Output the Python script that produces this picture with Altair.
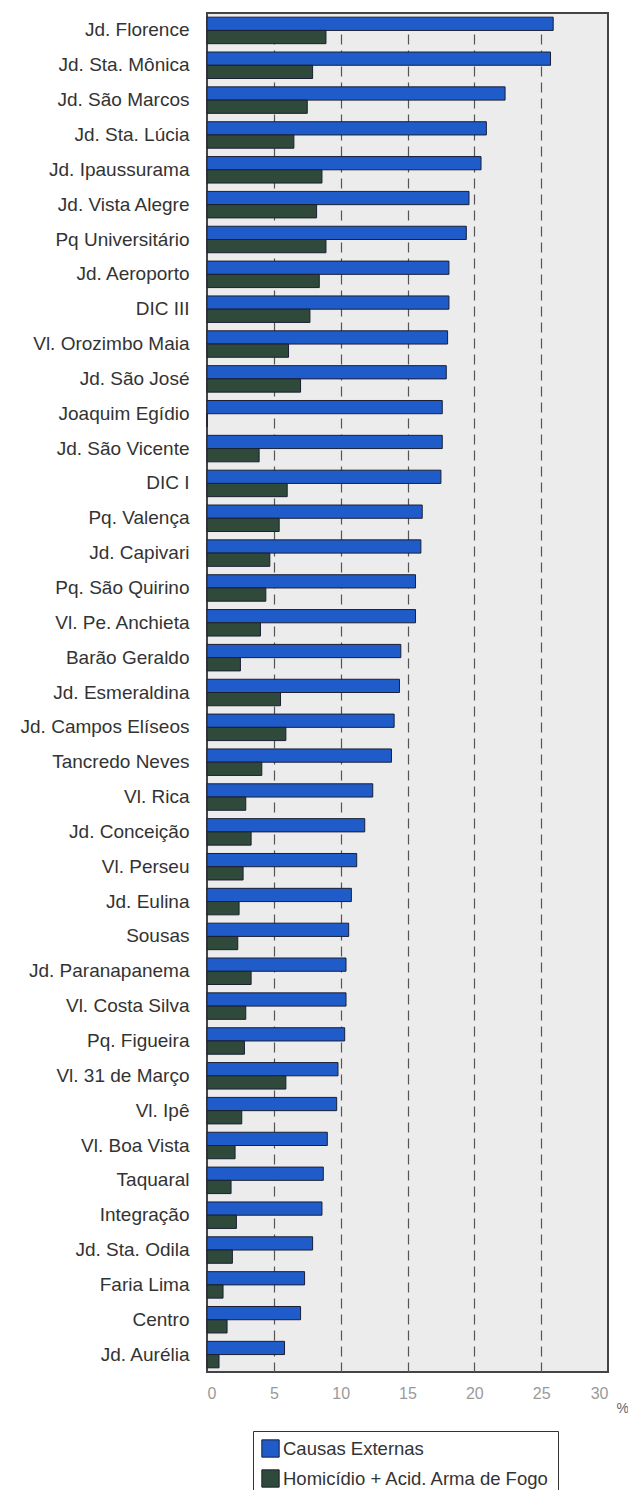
import altair as alt
import pandas as pd

categories = [
    "Jd. Florence", "Jd. Sta. Mônica", "Jd. São Marcos", "Jd. Sta. Lúcia",
    "Jd. Ipaussurama", "Jd. Vista Alegre", "Pq Universitário", "Jd. Aeroporto",
    "DIC III", "Vl. Orozimbo Maia", "Jd. São José", "Joaquim Egídio",
    "Jd. São Vicente", "DIC I", "Pq. Valença", "Jd. Capivari",
    "Pq. São Quirino", "Vl. Pe. Anchieta", "Barão Geraldo", "Jd. Esmeraldina",
    "Jd. Campos Elíseos", "Tancredo Neves", "Vl. Rica", "Jd. Conceição",
    "Vl. Perseu", "Jd. Eulina", "Sousas", "Jd. Paranapanema",
    "Vl. Costa Silva", "Pq. Figueira", "Vl. 31 de Março", "Vl. Ipê",
    "Vl. Boa Vista", "Taquaral", "Integração", "Jd. Sta. Odila",
    "Faria Lima", "Centro", "Jd. Aurélia",
]

causas_externas = [
    25.9, 25.7, 22.3, 20.9, 20.5, 19.6, 19.4, 18.1,
    18.1, 18.0, 17.9, 17.6, 17.6, 17.5, 16.1, 16.0,
    15.6, 15.6, 14.5, 14.4, 14.0, 13.8, 12.4, 11.8,
    11.2, 10.8, 10.6, 10.4, 10.4, 10.3, 9.8, 9.7,
    9.0, 8.7, 8.6, 7.9, 7.3, 7.0, 5.8,
]

homicidio_arma = [
    8.9, 7.9, 7.5, 6.5, 8.6, 8.2, 8.9, 8.4,
    7.7, 6.1, 7.0, 0.0, 3.9, 6.0, 5.4, 4.7,
    4.4, 4.0, 2.5, 5.5, 5.9, 4.1, 2.9, 3.3,
    2.7, 2.4, 2.3, 3.3, 2.9, 2.8, 5.9, 2.6,
    2.1, 1.8, 2.2, 1.9, 1.2, 1.5, 0.9,
]

series_names = ["Causas Externas", "Homicídio + Acid. Arma de Fogo"]
series_colors = ["#1f5cc9", "#2f4a3b"]
x_ticks = [0, 5, 10, 15, 20, 25, 30]

rows = []
for c, a, b in zip(categories, causas_externas, homicidio_arma):
    rows.append({"bairro": c, "serie": series_names[0], "valor": a})
    rows.append({"bairro": c, "serie": series_names[1], "valor": b})
df = pd.DataFrame(rows)

FONT = "Liberation Sans"

chart = (
    alt.Chart(df)
    .mark_bar(stroke="#1a1f33", strokeWidth=1)
    .encode(
        x=alt.X(
            "valor:Q",
            scale=alt.Scale(domain=[0, 30], nice=False),
            axis=alt.Axis(
                values=x_ticks,
                format="d",
                title="%",
                titleX=409,
                titleY=29,
                titleAlign="left",
                titleFont=FONT,
                titleFontSize=14,
                titleFontWeight="normal",
                titleColor="#666666",
                labelFont=FONT,
                labelFontSize=16,
                labelColor="#9a9a9a",
                labelPadding=13,
                ticks=False,
                domain=False,
                grid=True,
                gridColor="#555555",
                gridDash=[10, 6],
                gridWidth=1.2,
                gridOpacity=alt.condition(
                    "datum.value == 0 || datum.value == 30",
                    alt.value(0),
                    alt.value(1),
                ),
            ),
        ),
        y=alt.Y(
            "bairro:N",
            sort=categories,
            scale=alt.Scale(paddingInner=0.24, paddingOuter=0.12),
            axis=alt.Axis(
                title=None,
                labelFont=FONT,
                labelFontSize=19,
                labelColor="#333333",
                labelPadding=18,
                labelLimit=300,
                ticks=False,
                domain=False,
                grid=False,
            ),
        ),
        yOffset=alt.YOffset("serie:N", sort=series_names),
        color=alt.Color(
            "serie:N",
            sort=series_names,
            scale=alt.Scale(domain=series_names, range=series_colors),
            title=None,
            legend=alt.Legend(
                orient="none",
                legendX=46,
                legendY=1418,
                direction="vertical",
                symbolType="square",
                symbolSize=300,
                symbolStrokeColor="#1a1f33",
                symbolStrokeWidth=1,
                symbolOpacity=1,
                labelFont=FONT,
                labelFontSize=18.5,
                labelColor="#333333",
                labelLimit=400,
                labelOffset=3,
                rowPadding=7,
                padding=8,
                strokeColor="#333333",
                fillColor="#ffffff",
            ),
        ),
    )
    .properties(
        width=401,
        height=1359,
        background="#ffffff",
        autosize=alt.AutoSizeParams(type="none"),
        padding={"left": 199, "top": 5, "right": 20, "bottom": 118},
    )
    .configure_view(fill="#ececec", stroke="#444444", strokeWidth=2)
)

chart.save("out.html", embed_options={"renderer": "svg", "actions": False})
